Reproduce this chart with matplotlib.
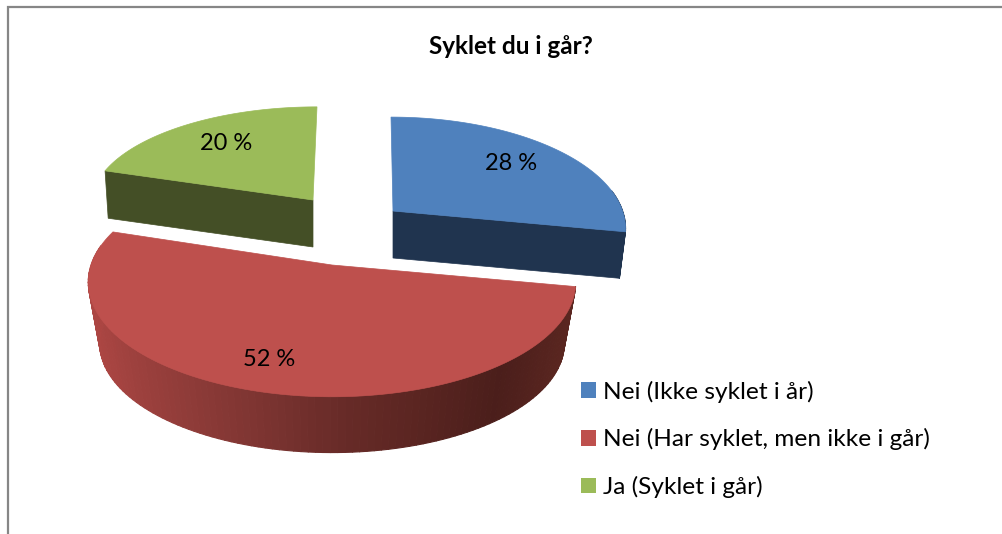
import numpy as np
import matplotlib
matplotlib.use("Agg")
import matplotlib.pyplot as plt
from matplotlib.patches import Polygon, Patch
from matplotlib.collections import PolyCollection
from matplotlib.colors import to_rgb

title = "Syklet du i går?"
labels = ["Nei (Ikke syklet i år)", "Nei (Har syklet, men ikke i går)", "Ja (Syklet i går)"]
values = [28, 52, 20]
top_colors = ["#4F81BD", "#BE504D", "#9BBB59"]
side_colors = ["#20344F", "#6A2B28", "#444F26"]

# layout of each exploded slice: apex x, apex y, radius x, radius y, perspective, base scale, depth, lean
layout = [
    dict(ax=393, ay=211, R=229.6, ry=108, k=.15, s=.974, d=47, lean=-2),
    dict(ax=332, ay=265, R=241, ry=112, k=.15, s=.953, d=62, lean=0),
    dict(ax=313, ay=200, R=221.3, ry=95, k=.02, s=.985, d=47, lean=4),
]
label_pos = [(511, 164), (269, 360), (226, 143)]

fig = plt.figure(figsize=(10.03, 5.34), dpi=100, facecolor="white")
ax = fig.add_axes([0, 0, 1, 1])
ax.set_xlim(0, 1003)
ax.set_ylim(534, 0)
ax.axis("off")
plt.rcParams["font.family"] = ["Lato", "DejaVu Sans"]


def project(theta, radial, g, base=False):
    u, v = radial * np.sin(theta), radial * np.cos(theta)
    scale = g["s"] if base else 1.0
    w = 1 + g["k"] * v
    x = g["ax"] + scale * (g["R"] * u / w + g["lean"] * v)
    y = g["ay"] - scale * g["ry"] * v / w + (g["d"] if base else 0)
    return x, y


def wall_color(idx, x):
    if idx == 1:
        stops_x = [90, 130, 200, 270, 340, 420, 500, 570]
        stops = ["#AC4643", "#9E413E", "#8B3A37", "#7A3330", "#682B28", "#5A2521", "#4B1E1B", "#5A2620"]
        rgb = np.array([to_rgb(c) for c in stops])
        return tuple(np.interp(x, stops_x, rgb[:, i]) for i in range(3))
    return to_rgb(side_colors[idx])


fractions = np.cumsum([0] + values) / sum(values) * 2 * np.pi
for idx in [2, 0, 1]:
    g = layout[idx]
    t0, t1 = fractions[idx], fractions[idx + 1]
    th = np.linspace(t0, t1, 121)
    tx, ty = project(th, 1.0, g)
    bx, by = project(th, 1.0, g, base=True)
    seg = [i for i in range(len(th) - 1) if np.cos(th[i]) < 0.2 and np.cos(th[i + 1]) < 0.2]
    quads = [[(tx[i], ty[i]), (tx[i + 1], ty[i + 1]), (bx[i + 1], by[i + 1]), (bx[i], by[i])] for i in seg]
    cols = [wall_color(idx, (tx[i] + tx[i + 1]) / 2) for i in seg]
    if quads:
        ax.add_collection(PolyCollection(quads, facecolors=cols, edgecolors=cols, linewidths=0.8, zorder=idx + 2))
    # radial cut faces that face the viewer
    ax0, ay0 = project(0.0, 0.0, g)
    bx0, by0 = project(0.0, 0.0, g, base=True)
    if idx == 0:
        ax.add_patch(Polygon([(ax0, ay0), (tx[-1], ty[-1]), (bx[-1], by[-1]), (bx0, by0)],
                             fc=side_colors[idx], ec=side_colors[idx], lw=0.5, zorder=idx + 2))
    if idx == 2:
        ax.add_patch(Polygon([(ax0, ay0), (tx[0], ty[0]), (bx[0], by[0]), (bx0, by0)],
                             fc=side_colors[idx], ec=side_colors[idx], lw=0.5, zorder=idx + 2))
    face = [(ax0, ay0)] + list(zip(tx, ty))
    ax.add_patch(Polygon(face, fc=top_colors[idx], ec=top_colors[idx], lw=0.5, zorder=idx + 2.5))

for v, (x, y) in zip(values, label_pos):
    ax.text(x, y, f"{v} %", ha="center", va="center", fontsize=17, color="black", zorder=10)

ax.text(511, 47, title, ha="center", va="center", fontsize=17.5, fontweight="bold", color="black", zorder=10)

handles = [Patch(fc=c, ec="none") for c in top_colors]
ax.legend(handles, labels, loc="upper left", bbox_to_anchor=(581, 380.5), bbox_transform=ax.transData,
          frameon=False, fontsize=17.6, borderpad=0, borderaxespad=0, handlelength=0.62,
          handleheight=0.62, handletextpad=0.28, labelspacing=1.05, labelcolor="black")

ax.plot([8, 8, 1003], [534, 7, 7], color="#868686", lw=1.6, solid_joinstyle="miter", zorder=1)

fig.savefig("out.png", dpi=100)
